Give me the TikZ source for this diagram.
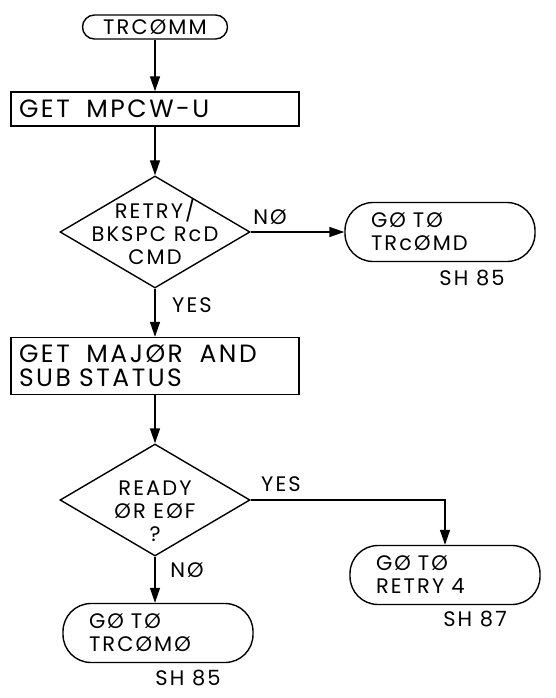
\documentclass[tikz,border=0pt]{standalone}
\usepackage{fontspec}
\setmainfont{Poppins}[LetterSpace=10]
\usetikzlibrary{arrows.meta,shapes.geometric}

\begin{document}
\begin{tikzpicture}[x=1pt,y=-1pt,
  line width=1.4pt,
  font=\fontsize{21}{23}\selectfont,
  start/.style={draw,rounded corners=12pt,minimum width=145pt,minimum height=24pt,inner sep=0pt},
  procbox/.style={draw,inner xsep=8pt,text width=272pt,align=left,font=\fontsize{25}{23.5}\selectfont},
  decision/.style={draw,diamond,minimum width=190pt,minimum height=112pt,inner sep=-30pt,align=center},
  term/.style={draw,rounded corners=28pt,minimum width=190pt,minimum height=59pt,inner xsep=26pt,text width=138pt,align=left},
  lbl/.style={inner sep=0pt},
  >={Triangle[length=15pt,width=10pt]}]
  \useasboundingbox (0,0) rectangle (555,698);
  % main column
  \node[start] (trcomm) at (155,27) {TRCØMM};
  \node[procbox,minimum height=34pt] (getmpcw) at (155,109) {GET\ \ MPCW-U};
  \node[decision] (retry) at (155,232) {RETRY/\\BKSPC RcD\\CMD};
  \node[procbox,minimum height=57pt] (getmajor) at (155,366) {GET\ \ MAJØR\ \ AND\\SUB STATUS};
  \node[decision] (ready) at (155,500) {};
  \node[lbl,align=center] (readytxt) at (155,511) {READY\\ØR EØF\\?};
  % exits
  \node[term] (trcomd) at (440,232) {GØ TØ\\TRcØMD};
  \node[term] (retry4) at (445,575) {GØ TØ\\RETRY 4};
  \node[term] (trcomo) at (158,633) {GØ TØ\\TRCØMØ};
  % sheet refs and branch labels
  \node[lbl] (sh85a) at (472,278) {SH 85};
  \node[lbl] (sh87) at (475,619) {SH 87};
  \node[lbl] (sh85b) at (188,678) {SH 85};
  \node[lbl] (no1) at (270,217) {NØ};
  \node[lbl] (yes1) at (192,305) {YES};
  \node[lbl] (yes2) at (281,484) {YES};
  \node[lbl] (no2) at (187,570) {NØ};
  % arrows
  \draw[->] (trcomm) -- (getmpcw);
  \draw[->] (getmpcw) -- (retry);
  \draw[->] (retry) -- (trcomd);
  \draw[->] (retry) -- (getmajor);
  \draw[->] (getmajor) -- (ready);
  \draw[->] (ready.east) -| (retry4);
  \draw[->] (ready) -- (ready |- trcomo.north);
\end{tikzpicture}
\end{document}
